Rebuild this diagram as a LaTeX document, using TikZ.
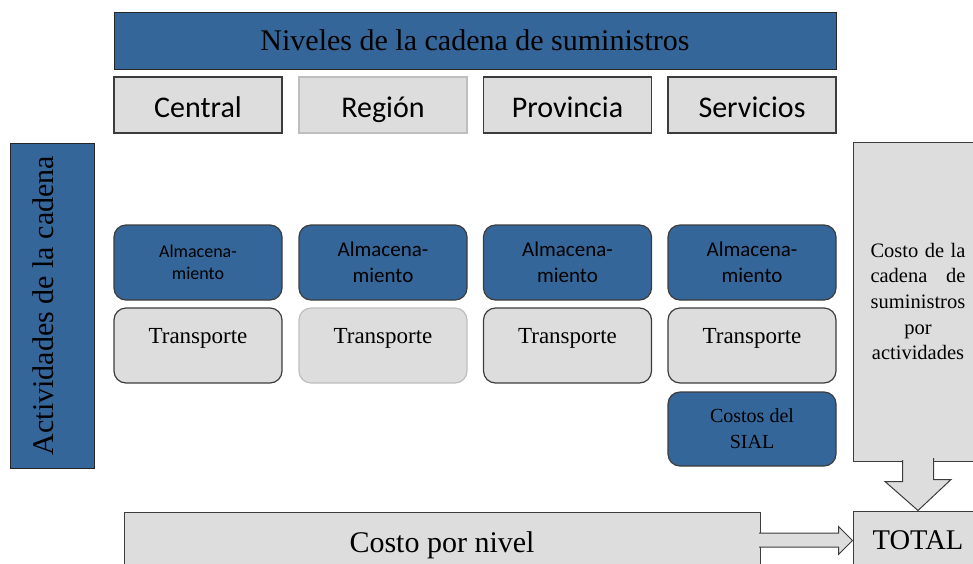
\documentclass[tikz,border=0pt]{standalone}
\usepackage{fontspec}
\setmainfont{Liberation Serif}
\newfontfamily\calibri{Carlito}
\usetikzlibrary{calc}
\definecolor{chainblue}{RGB}{52,102,153}
\definecolor{boxgray}{RGB}{221,221,221}
\definecolor{edgegray}{RGB}{60,60,60}
\definecolor{softedge}{RGB}{190,190,190}

\begin{document}
\begin{tikzpicture}[x=1pt, y=-1pt,
    bluebar/.style = {draw=black!85, fill=chainblue, inner sep=0pt, line width=1pt},
    level/.style = {draw=edgegray, fill=boxgray, line width=1.2pt, minimum width=168pt, minimum height=56pt, inner sep=0pt, text height=24pt, text depth=0pt, font=\calibri\fontsize{30}{36}\selectfont},
    almacen/.style = {draw=edgegray, fill=chainblue, line width=1.2pt, rounded corners=12pt, minimum width=168pt, minimum height=75pt, inner sep=0pt, align=center, font=\calibri\fontsize{21}{26}\selectfont},
    transp/.style = {draw=edgegray, fill=boxgray, line width=1.2pt, rounded corners=12pt, minimum width=168pt, minimum height=75pt, inner sep=0pt, text height=16pt, text depth=21pt, font=\fontsize{23}{28}\selectfont},
    block/.style = {draw=edgegray, fill=boxgray, line width=1pt, inner sep=0pt}]
    \useasboundingbox (0,0) rectangle (973,563);
    \clip (0,0) rectangle (973,563);

    \node[bluebar, minimum width=722pt, minimum height=57pt, font=\fontsize{30}{36}\selectfont] (niveles) at (475,40.5) {Niveles de la cadena de suministros};
    \node[bluebar, rotate=90, minimum width=325pt, minimum height=84pt, text height=20.5pt, text depth=18.5pt, font=\fontsize{30}{36}\selectfont] (actividades) at (52,305.5) {Actividades de la cadena};

    % niveles
    \node[level] (central) at (198,105) {Central};
    \node[level, draw=softedge] (region) at (383,105) {Región};
    \node[level] (provincia) at (567.5,105) {Provincia};
    \node[level] (servicios) at (752,105) {Servicios};

    % actividades por nivel
    \node[almacen, font=\calibri\fontsize{18}{22}\selectfont] (alm1) at (198,262.5) {Almacena-\\miento};
    \node[almacen] (alm2) at (383,262.5) {Almacena-\\miento};
    \node[almacen] (alm3) at (567.5,262.5) {Almacena-\\miento};
    \node[almacen] (alm4) at (752,262.5) {Almacena-\\miento};

    \node[transp] (tr1) at (198,345.5) {Transporte};
    \node[transp, draw=softedge] (tr2) at (383,345.5) {Transporte};
    \node[transp] (tr3) at (567.5,345.5) {Transporte};
    \node[transp] (tr4) at (752,345.5) {Transporte};

    \node[almacen, minimum height=74pt, font=\fontsize{20}{26}\selectfont] (sial) at (752,429) {Costos del\\SIAL};

    % totales
    \node[block, minimum width=130pt, minimum height=319pt, align=center, font=\fontsize{20.5}{25.7}\selectfont] (cadena) at (918,301.5)
        {\makebox[95pt][s]{Costo de la}\\\makebox[95pt][s]{cadena de}\\suministros\\por\\actividades};
    \node[block, minimum width=130pt, minimum height=59pt, font=\fontsize{28.5}{34}\selectfont] (total) at (918,540.5) {TOTAL};
    \node[block, minimum width=636pt, minimum height=56pt, text height=24pt, text depth=0pt, font=\fontsize{30}{36}\selectfont] (nivel) at (442,540) {Costo por nivel};

    \path[draw=edgegray, fill=boxgray, line width=1pt] ($(cadena.south)+(-15.5,-1.5)$) -- ++(0,21.5) -- ++(-17.5,0)
        -- (total.north) -- ++(33,-31) -- ++(-17.5,0) -- ++(0,-21.5);
    \path[draw=edgegray, fill=boxgray, line width=1pt] ($(nivel.east)+(-1.5,-7)$) -| ($(total.west)+(-14,-14)$)
        -- (total.west) -- ++(-14,14) |- ($(nivel.east)+(-1.5,7)$);
\end{tikzpicture}
\end{document}
